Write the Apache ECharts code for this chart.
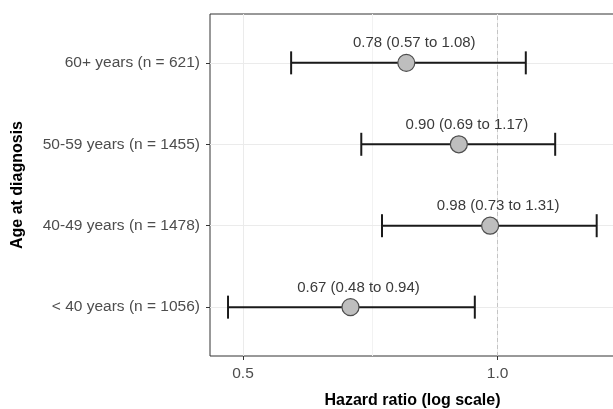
<!DOCTYPE html>
<html>
<head>
<meta charset="utf-8">
<script src="https://cdn.jsdelivr.net/npm/echarts@6/dist/echarts.min.js"></script>
<style>
  html, body { margin: 0; padding: 0; background: #fff; }
  #forest { width: 613px; height: 409px; }
</style>
</head>
<body>
<div id="forest"></div>
<script>
// 分组（从下到上）
const groups = ['< 40 years (n = 1056)', '40-49 years (n = 1478)', '50-59 years (n = 1455)', '60+ years (n = 621)'];
const hr = [0.67, 0.98, 0.90, 0.78];
const lower = [0.48, 0.73, 0.69, 0.57];
const upper = [0.94, 1.31, 1.17, 1.08];
const xTicks = [0.5, 1.0];
const xMinor = [0.707];
const refLine = 1.0;

const fontFamily = 'Liberation Sans, Arial, sans-serif';

var chartDom = document.getElementById('forest');
var myChart = echarts.init(chartDom, null, { renderer: 'canvas' });

// 每个组的 y 位置 1..n
const yPos = groups.map((g, i) => i + 1);

const barData = groups.map((g, i) => [lower[i], upper[i], yPos[i]]);
const pointData = groups.map((g, i) => ({
    value: [hr[i], yPos[i]],
    label: hr[i].toFixed(2) + ' (' + lower[i].toFixed(2) + ' to ' + upper[i].toFixed(2) + ')'
}));

const gridLine = { color: '#ebebeb', width: 1, type: 'solid' };

var option = {
    animation: false,
    backgroundColor: '#fff',
    grid: {
        left: 210, right: -2, top: 14, bottom: 53,
        outerBoundsMode: 'none',
        containLabel: false,
        show: true, borderColor: '#333', borderWidth: 1, backgroundColor: '#fff'
    },
    xAxis: {
        type: 'log',
        logBase: 10,
        min: 0.457,
        max: 1.377,
        name: 'Hazard ratio (log scale)',
        nameLocation: 'middle',
        nameGap: 37,
        nameTextStyle: { fontFamily, fontSize: 16, fontWeight: 'bold', color: '#000' },
        axisLine: { show: false },
        axisTick: { show: true, customValues: xTicks, length: 4, lineStyle: { color: '#333' } },
        axisLabel: {
            customValues: xTicks, margin: 10,
            fontFamily, fontSize: 15.5, color: '#4d4d4d',
            formatter: v => Number(v).toFixed(1)
        },
        splitLine: { show: false },
        minorSplitLine: { show: false }
    },
    yAxis: {
        type: 'value',
        min: 0.4,
        max: groups.length + 0.6,
        name: 'Age at diagnosis',
        nameLocation: 'middle',
        nameGap: 184,
        nameTextStyle: { fontFamily, fontSize: 16, fontWeight: 'bold', color: '#000' },
        axisLine: { show: false },
        axisTick: { show: true, customValues: yPos, length: 4, lineStyle: { color: '#333' } },
        axisLabel: {
            customValues: yPos, margin: 10,
            fontFamily, fontSize: 15.5, color: '#4d4d4d',
            formatter: v => groups[Math.round(v) - 1] || ''
        },
        splitLine: { show: false }
    },
    series: [
        {
            // 网格线
            type: 'line',
            data: [],
            silent: true,
            z: 1,
            markLine: {
                silent: true,
                z: 1,
                symbol: 'none',
                label: { show: false },
                animation: false,
                data: [
                    ...xTicks.map(v => ({ xAxis: v, lineStyle: gridLine })),
                    ...xMinor.map(v => ({ xAxis: v, lineStyle: { color: '#f2f2f2', width: 1, type: 'solid' } })),
                    ...yPos.map(v => ({ yAxis: v, lineStyle: gridLine }))
                ]
            }
        },
        {
            // 参考线 HR = 1
            type: 'line',
            data: [],
            silent: true,
            z: 2,
            markLine: {
                silent: true,
                z: 2,
                symbol: 'none',
                label: { show: false },
                animation: false,
                data: [{ xAxis: refLine, lineStyle: { color: '#c4c4c4', width: 1, type: [4, 3] } }]
            }
        },
        {
            // 置信区间
            type: 'custom',
            z: 3,
            data: barData,
            encode: { x: [0, 1], y: 2 },
            renderItem: function (params, api) {
                const y = api.value(2);
                const p1 = api.coord([api.value(0), y]);
                const p2 = api.coord([api.value(1), y]);
                const h = 11.5;
                const style = { stroke: '#1a1a1a', lineWidth: 2 };
                return {
                    type: 'group',
                    children: [
                        { type: 'line', shape: { x1: p1[0], y1: p1[1], x2: p2[0], y2: p2[1] }, style },
                        { type: 'line', shape: { x1: p1[0], y1: p1[1] - h, x2: p1[0], y2: p1[1] + h }, style },
                        { type: 'line', shape: { x1: p2[0], y1: p2[1] - h, x2: p2[0], y2: p2[1] + h }, style }
                    ]
                };
            }
        },
        {
            // 点估计
            type: 'scatter',
            z: 4,
            data: pointData,
            symbol: 'circle',
            symbolSize: 17,
            itemStyle: { color: '#bebebe', borderColor: '#4d4d4d', borderWidth: 1.2, opacity: 1 },
            label: {
                show: true,
                position: 'top',
                distance: 3,
                offset: [8, 0],
                fontFamily, fontSize: 15, color: '#3a3a3a',
                formatter: p => p.data.label
            }
        }
    ]
};

option && myChart.setOption(option);
</script>
</body>
</html>
